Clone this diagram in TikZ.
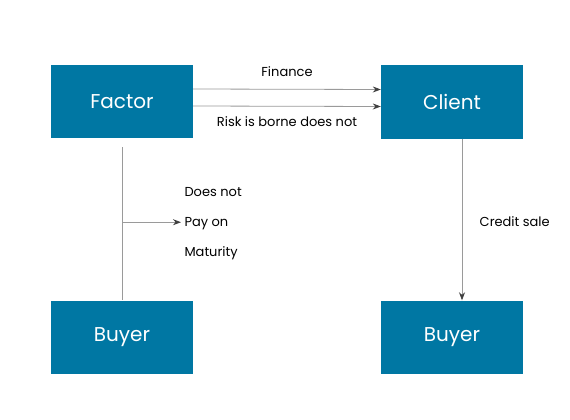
\documentclass[tikz,border=0pt]{standalone}
\usepackage{fontspec}
\setmainfont{Poppins}
\usetikzlibrary{arrows.meta}

\definecolor{boxblue}{HTML}{0077A3}
\definecolor{linegray}{HTML}{9A9A9A}
\definecolor{tipgray}{HTML}{404040}

\begin{document}
\begin{tikzpicture}[x=1pt,y=-1pt,
  party/.style={fill=boxblue, text=white, minimum width=142pt, minimum height=73pt,
    inner sep=0pt, font=\fontsize{20}{24}\selectfont},
  flow/.style={draw=linegray, line width=0.8pt,
    -{Stealth[length=8pt,width=6pt,color=tipgray]}},
  lbl/.style={text=black, font=\fontsize{13}{16}\selectfont}]

\useasboundingbox (0,0) rectangle (570,420);

% the four parties
\node[party] (factor) at (122,101.5) {Factor};
\node[party] (client) at (452,102) {Client};
\node[party] (buyerA) at (122,337) {Buyer};
\node[party] (buyerB) at (452,337) {Buyer};

% factor to client
\draw[flow] ([yshift=12.5pt]factor.east) -- ([yshift=12.5pt]client.west)
      node[lbl, midway, above=9pt] {Finance};
\draw[flow] ([yshift=-4.5pt]factor.east) -- ([yshift=-4.5pt]client.west)
      node[lbl, midway, below=6.5pt] {Risk is borne does not};

% buyer back to factor
\draw[draw=linegray, line width=0.8pt] ([yshift=-9pt]factor.south) -- (buyerA.north)
      coordinate[pos=0.49] (fork);
\node[lbl, align=left, anchor=west, font=\fontsize{13}{30}\selectfont] (nopay) at (181,223.5)
      {Does not\\Pay on\\Maturity};
\draw[flow] (fork) -- (fork -| nopay.west);

% client to buyer
\draw[flow] ([xshift=10pt]client.south) -- ([xshift=10pt]buyerB.north)
      node[lbl, midway, right=14pt, yshift=-2pt] {Credit sale};

\end{tikzpicture}
\end{document}
